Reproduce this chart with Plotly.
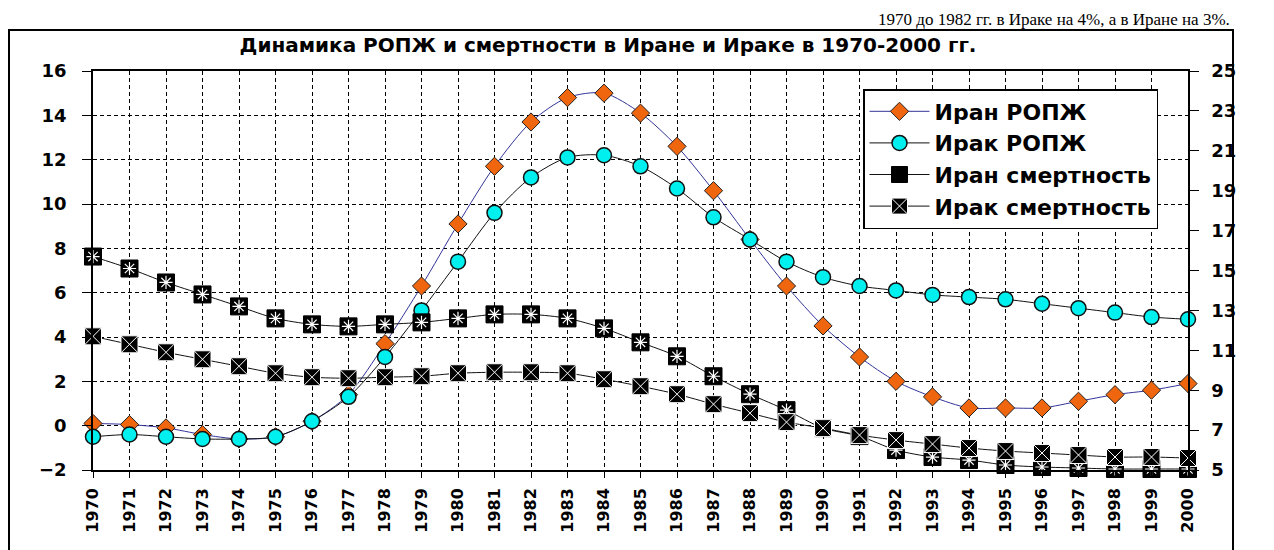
import plotly.graph_objects as go

years = list(range(1970, 2001))
year_labels = [str(y) for y in years]

iran_ropzh = [0.1, 0.05, -0.1, -0.4, -0.6, -0.5, 0.2, 1.4, 3.7, 6.3, 9.1, 11.7, 13.7, 14.8, 15.0,
              14.1, 12.6, 10.6, 8.4, 6.3, 4.5, 3.1, 2.0, 1.3, 0.8, 0.8, 0.8, 1.1, 1.4, 1.6, 1.9]
iraq_ropzh = [-0.5, -0.4, -0.5, -0.6, -0.6, -0.5, 0.2, 1.3, 3.1, 5.2, 7.4, 9.6, 11.2, 12.1, 12.2,
              11.7, 10.7, 9.4, 8.4, 7.4, 6.7, 6.3, 6.1, 5.9, 5.8, 5.7, 5.5, 5.3, 5.1, 4.9, 4.8]
iran_death = [15.7, 15.1, 14.4, 13.8, 13.2, 12.6, 12.3, 12.2, 12.3, 12.4, 12.6, 12.8, 12.8, 12.6, 12.1,
              11.4, 10.7, 9.7, 8.8, 8.0, 7.1, 6.7, 6.0, 5.65, 5.5, 5.25, 5.15, 5.1, 5.05, 5.05, 5.05]
iraq_death = [11.7, 11.3, 10.9, 10.55, 10.2, 9.85, 9.65, 9.6, 9.65, 9.7, 9.85, 9.9, 9.9, 9.85, 9.55,
              9.2, 8.8, 8.3, 7.85, 7.4, 7.1, 6.75, 6.5, 6.3, 6.1, 5.95, 5.85, 5.75, 5.65, 5.65, 5.6]

left_ticks = list(range(-2, 17, 2))
right_ticks = list(range(5, 26, 2))

names = ["Иран РОПЖ", "Ирак РОПЖ", "Иран смертность", "Ирак смертность"]
title_text = "Динамика РОПЖ и смертности в Иране и Ираке в 1970-2000 гг."
top_text = "1970 до 1982 гг. в Ираке на 4%, а в Иране на 3%."

FONT = "DejaVu Sans"

# figure is 8px smaller than the window: the page body adds an 8px margin
W, H = 1266, 542
L, R, T, B = 85, 86, 63, 80
PW, PH = W - L - R, H - T - B


def px(x):
    return (x - L) / PW


def py(y):
    return (H - B - y) / PH


fig = go.Figure()
fig.add_trace(go.Scatter(
    x=years, y=iran_ropzh, name=names[0], mode="lines+markers",
    line=dict(color="#333399", width=1, shape="spline", smoothing=0.8),
    marker=dict(symbol="diamond", size=14, color="#F0660F", line=dict(color="#222222", width=1)),
    cliponaxis=False))
fig.add_trace(go.Scatter(
    x=years, y=iraq_ropzh, name=names[1], mode="lines+markers",
    line=dict(color="#111111", width=1, shape="spline", smoothing=0.8),
    marker=dict(symbol="circle", size=15, color="#00F0F0", line=dict(color="#111111", width=1.5)),
    cliponaxis=False))
fig.add_trace(go.Scatter(
    x=years, y=iran_death, name=names[2], mode="lines+markers", yaxis="y2",
    legendgroup="iran_d",
    line=dict(color="#111111", width=1, shape="spline", smoothing=0.8),
    marker=dict(symbol="square", size=17, color="black", line=dict(color="black", width=1)),
    cliponaxis=False))
fig.add_trace(go.Scatter(
    x=years, y=iran_death, mode="markers", yaxis="y2", showlegend=False,
    legendgroup="iran_d", hoverinfo="skip",
    marker=dict(symbol="asterisk-open", size=11, color="white", line=dict(color="white", width=1.2)),
    cliponaxis=False))
fig.add_trace(go.Scatter(
    x=years, y=iraq_death, name=names[3], mode="lines+markers", yaxis="y2",
    line=dict(color="#111111", width=1, shape="spline", smoothing=0.8),
    marker=dict(symbol="square-x", size=17, color="black", line=dict(color="white", width=1)),
    cliponaxis=False))

grid_dash = "4px,3px"
fig.update_layout(
    width=W, height=H,
    margin=dict(l=L, r=R, t=T, b=B, autoexpand=False),
    paper_bgcolor="white", plot_bgcolor="white",
    font=dict(family=FONT, color="black"),
    title=dict(text="<b>" + title_text + "</b>", x=600 / W, xanchor="center",
               y=1 - 37 / H, yanchor="middle", font=dict(family=FONT, size=20, color="black")),
    xaxis=dict(range=[1970, 2000], tickvals=years, ticktext=year_labels, tickangle=-90,
               tickfont=dict(family=FONT, size=16, color="black", weight="bold"),
               showgrid=True, gridcolor="black", gridwidth=1, griddash=grid_dash,
               showline=True, linecolor="black", linewidth=1.5, mirror=True,
               ticks="outside", ticklen=6, tickcolor="black", ticklabelstandoff=4,
               zeroline=False, automargin=False),
    yaxis=dict(range=[-2, 16], tickvals=left_ticks,
               tickfont=dict(family=FONT, size=18, color="black", weight="bold"),
               showgrid=True, gridcolor="black", gridwidth=1, griddash=grid_dash,
               showline=True, linecolor="black", linewidth=1.5,
               ticks="outside", ticklen=9, tickcolor="black", ticklabelstandoff=12,
               zeroline=False, automargin=False),
    yaxis2=dict(range=[5, 25], tickvals=right_ticks, overlaying="y", side="right",
                tickfont=dict(family=FONT, size=18, color="black", weight="bold"),
                showgrid=False, showline=True, linecolor="black", linewidth=1.5,
                ticks="outside", ticklen=9, tickcolor="black", ticklabelstandoff=9,
                zeroline=False, automargin=False),
    legend=dict(x=px(855), y=py(81), xanchor="left", yanchor="top",
                bgcolor="white", bordercolor="black", borderwidth=1.5,
                font=dict(family=FONT, size=22, color="black", weight="bold"),
                tracegroupgap=0, itemwidth=60),
    showlegend=True,
)

# outer chart frame (Excel chart area border)
fig.add_shape(type="rect", xref="paper", yref="paper",
              x0=px(1), x1=px(1225), y0=py(560), y1=py(22),
              line=dict(color="black", width=2), fillcolor="rgba(0,0,0,0)", layer="below")

fig.add_annotation(text=top_text, xref="paper", yref="paper",
                   x=px(1224), xanchor="right", y=py(0), yanchor="top", showarrow=False,
                   font=dict(family="Liberation Serif", size=17, color="black"))

fig.write_html("out.html")
